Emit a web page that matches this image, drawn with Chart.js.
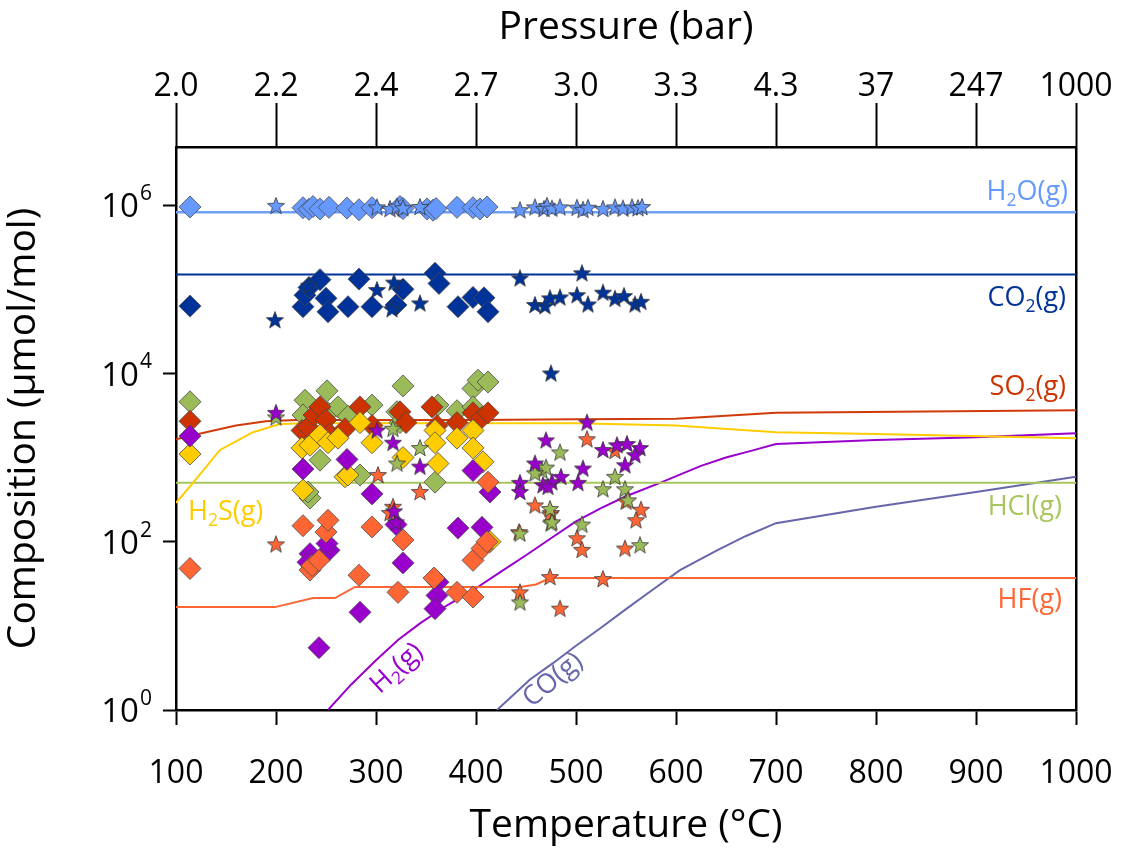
<!DOCTYPE html>
<html>
<head>
<meta charset="utf-8">
<script src="https://cdn.jsdelivr.net/npm/chart.js@4.4.1/dist/chart.umd.min.js"></script>
<style>
  body { margin: 0; background: #fff; }
  #wrap { width: 1123px; height: 853px; }
</style>
</head>
<body>
<div id="wrap"><canvas id="chart"></canvas></div>
<script>
// temperature ticks on the bottom axis and the matching pressures on the top axis
const tempTicks = [100, 200, 300, 400, 500, 600, 700, 800, 900, 1000];
const pressureLabels = ["2.0", "2.2", "2.4", "2.7", "3.0", "3.3", "4.3", "37", "247", "1000"];
const yTicks = [1, 100, 1e4, 1e6];

// model curves [T, umol/mol]
const h2oCurve = [[100, 8.2e5], [1000, 8.2e5]];
const co2Curve = [[100, 1.5e5], [1000, 1.5e5]];
const so2Curve = [[100, 1650], [130, 2000], [160, 2400], [190, 2700], [220, 2800], [400, 2800], [500, 2850], [600, 2900], [700, 3400], [1000, 3650]];
const h2sCurve = [[100, 290], [117, 500], [144, 1230], [177, 2000], [204, 2500], [230, 2550], [500, 2550], [600, 2400], [700, 2000], [800, 1900], [1000, 1700]];
const hclCurve = [[100, 500], [1000, 500]];
const hfCurve = [[100, 16.7], [199, 16.7], [237, 21.4], [259, 21.4], [279, 29], [444, 29], [460, 31], [474, 37], [1000, 37]];
const h2Curve = [[252, 1], [275, 2], [300, 3.9], [322, 6.8], [344, 10.7], [372, 17.8], [400, 28], [425, 44], [450, 69], [475, 110], [500, 174], [525, 250], [550, 347], [584, 500], [625, 795], [650, 1000], [675, 1200], [700, 1450], [800, 1620], [900, 1740], [1000, 1950]];
const coCurve = [[421, 1], [437, 1.5], [454, 2.3], [477, 3.6], [500, 5.8], [525, 9.5], [550, 15.8], [577, 27], [604, 46], [641, 79], [670, 117], [700, 166], [800, 260], [900, 390], [1000, 590]];

// measured samples, diamonds and stars [T, umol/mol]
const h2oDiamonds = [[114, 9.5e5], [227, 9.3e5], [233, 8.9e5], [237, 9.6e5], [244, 9.0e5], [253, 9.4e5], [271, 9.2e5], [283, 8.8e5], [296, 9.3e5], [324, 9.6e5], [327, 9.1e5], [351, 9.0e5], [357, 8.7e5], [360, 9.1e5], [381, 9.4e5], [397, 9.3e5], [404, 9.0e5], [411, 9.5e5]];
const h2oStars = [[200, 9.8e5], [301, 9.4e5], [314, 9.0e5], [321, 9.6e5], [327, 9.2e5], [344, 9.5e5], [444, 8.7e5], [459, 9.4e5], [468, 9.0e5], [471, 9.8e5], [476, 9.1e5], [484, 9.4e5], [501, 9.3e5], [507, 8.8e5], [512, 9.3e5], [527, 9.0e5], [539, 9.4e5], [547, 9.1e5], [556, 9.4e5], [562, 9.2e5], [566, 9.5e5]];
const co2Diamonds = [[114, 6.3e4], [227, 6.2e4], [229, 8.5e4], [233, 1.05e5], [244, 1.3e5], [250, 7.8e4], [252, 5.4e4], [272, 6.2e4], [283, 1.32e5], [296, 6.2e4], [320, 6.5e4], [327, 1.0e5], [359, 1.55e5], [363, 1.17e5], [382, 6.2e4], [397, 8.0e4], [408, 7.9e4], [412, 5.4e4]];
const co2Stars = [[199, 4.3e4], [233, 1.1e5], [301, 9.8e4], [318, 1.2e5], [316, 5.8e4], [344, 6.8e4], [444, 1.35e5], [506, 1.55e5], [459, 6.5e4], [469, 6.3e4], [474, 7.8e4], [484, 8.0e4], [501, 8.5e4], [512, 6.6e4], [527, 9.1e4], [539, 7.7e4], [548, 8.3e4], [559, 6.6e4], [565, 7.1e4], [475, 1.0e4]];
const so2Diamonds = [[114, 2700], [226, 2100], [232, 2300], [238, 3200], [244, 4000], [250, 2800], [254, 1900], [269, 2200], [284, 4000], [296, 2400], [324, 3500], [330, 2600], [356, 4000], [361, 2400], [381, 2600], [397, 3400], [406, 3000], [412, 3400]];
const h2sDiamonds = [[114, 1100], [226, 1300], [234, 1400], [244, 1850], [252, 1500], [262, 1700], [269, 590], [272, 620], [284, 2600], [296, 1500], [227, 410], [327, 1000], [359, 2100], [359, 1500], [362, 850], [381, 1700], [397, 2100], [397, 1300], [407, 890], [414, 100]];
const hclDiamonds = [[114, 4600], [229, 4800], [227, 3200], [251, 6200], [252, 3400], [244, 930], [262, 4000], [272, 3100], [284, 620], [296, 4200], [321, 3500], [324, 2600], [327, 7100], [234, 330], [232, 390], [362, 4200], [359, 510], [381, 3600], [397, 6600], [402, 8300], [412, 7900], [397, 4000]];
const hfDiamonds = [[114, 48], [227, 155], [250, 130], [252, 180], [234, 46], [236, 52], [243, 60], [296, 150], [327, 105], [283, 40], [322, 25], [358, 37], [381, 25], [397, 22], [397, 60], [406, 83], [411, 100], [412, 510]];
const h2Diamonds = [[114, 1800], [227, 730], [271, 950], [296, 370], [234, 72], [232, 57], [253, 79], [251, 95], [284, 14.5], [243, 5.5], [327, 56], [320, 160], [397, 700], [414, 390], [382, 145], [406, 148], [362, 33], [361, 23], [359, 16]];
const h2Stars = [[200, 3400], [301, 2100], [317, 1500], [344, 780], [320, 170], [318, 230], [511, 2600], [470, 1600], [459, 850], [444, 500], [444, 390], [507, 740], [485, 590], [476, 510], [467, 470], [472, 450], [502, 500], [527, 1230], [541, 1400], [551, 1450], [564, 1300], [559, 1070], [549, 810]];
const hclStars = [[200, 3000], [317, 2200], [344, 1300], [321, 850], [466, 700], [484, 1150], [470, 760], [459, 650], [527, 420], [539, 590], [549, 420], [552, 310], [444, 19], [475, 165], [506, 160], [564, 91], [474, 245], [444, 125], [476, 170]];
const hfStars = [[200, 93], [302, 620], [344, 390], [317, 260], [314, 220], [511, 1650], [539, 1200], [459, 270], [475, 220], [474, 210], [550, 300], [565, 240], [560, 180], [443, 130], [501, 110], [506, 80], [549, 83], [474, 38], [527, 36], [444, 25], [484, 16]];

const C = {
  h2o: "#6699FF", co2: "#003399", so2: "#CC3300", h2s: "#FFCC00",
  hcl: "#9BBB59", hf: "#FF6633", h2: "#9900CC", co: "#6666AA"
};
const FONT = "'Open Sans', sans-serif";

function pts(arr) { return arr.map(p => ({ x: p[0], y: p[1] })); }

function makeStar(color) {
  const c = document.createElement("canvas");
  c.width = 22; c.height = 22;
  const g = c.getContext("2d");
  g.beginPath();
  for (let i = 0; i < 10; i++) {
    const r = i % 2 ? 3.8 : 9;
    const a = -Math.PI / 2 + i * Math.PI / 5;
    const px = 11 + r * Math.cos(a), py = 11.5 + r * Math.sin(a);
    if (i === 0) g.moveTo(px, py); else g.lineTo(px, py);
  }
  g.closePath();
  g.fillStyle = color;
  g.fill();
  g.strokeStyle = "#333";
  g.lineWidth = 0.8;
  g.stroke();
  return c;
}

function curve(data, color, width) {
  return {
    type: "line", data: pts(data), borderColor: color, borderWidth: width || 2,
    pointRadius: 0, fill: false, order: 2, tension: 0
  };
}
function diamonds(data, color) {
  return {
    type: "scatter", data: pts(data), pointStyle: "rectRot", pointRadius: 11,
    backgroundColor: color, borderColor: "#4a4a4a", borderWidth: 0.8, order: 1
  };
}
function stars(data, color) {
  return {
    type: "scatter", data: pts(data), pointStyle: makeStar(color), pointRadius: 9,
    order: 0
  };
}

// draws text made of normal and subscript parts
function subText(ctx, parts, x, y, size, color, align, angle) {
  ctx.save();
  ctx.translate(x, y);
  ctx.rotate(angle || 0);
  ctx.fillStyle = color;
  ctx.textBaseline = "alphabetic";
  let total = 0;
  parts.forEach(p => {
    ctx.font = (p[1] ? size * 0.65 : size) + "px " + FONT;
    total += ctx.measureText(p[0]).width;
  });
  let cx = align === "right" ? -total : align === "center" ? -total / 2 : 0;
  parts.forEach(p => {
    ctx.font = (p[1] ? size * 0.65 : size) + "px " + FONT;
    ctx.textAlign = "left";
    ctx.fillText(p[0], cx, p[1] ? size * 0.22 : 0);
    cx += ctx.measureText(p[0]).width;
  });
  ctx.restore();
}

const labelPlugin = {
  id: "labels",
  afterDraw(chart) {
    const ctx = chart.ctx;
    const a = chart.chartArea;
    const ys = chart.scales.y;
    // y tick labels with superscript powers
    ctx.save();
    yTicks.forEach(v => {
      const py = ys.getPixelForValue(v);
      const exp = String(Math.round(Math.log10(v)));
      ctx.fillStyle = "#000";
      ctx.textBaseline = "middle";
      ctx.font = "21px " + FONT;
      ctx.textAlign = "left";
      const ew = ctx.measureText(exp).width;
      ctx.fillText(exp, a.left - 24 - ew, py - 11);
      ctx.font = "33px " + FONT;
      ctx.textAlign = "right";
      ctx.fillText("10", a.left - 25 - ew, py + 3);
    });
    ctx.restore();

    const s = 27, r = a.right - 8;
    subText(ctx, [["H", 0], ["2", 1], ["O(g)", 0]], r, 200, s, C.h2o, "right");
    subText(ctx, [["CO", 0], ["2", 1], ["(g)", 0]], r - 2, 306, s, C.co2, "right");
    subText(ctx, [["SO", 0], ["2", 1], ["(g)", 0]], r - 2, 395, s, C.so2, "right");
    subText(ctx, [["HCl(g)", 0]], r - 6, 515, s, "#A8C65E", "right");
    subText(ctx, [["HF(g)", 0]], r - 6, 608, s, C.hf, "right");
    subText(ctx, [["H", 0], ["2", 1], ["S(g)", 0]], a.left + 12, 520, s, C.h2s, "left");
    subText(ctx, [["H", 0], ["2", 1], ["(g)", 0]], 402, 674, s, C.h2, "center", -0.74);
    subText(ctx, [["CO(g)", 0]], 558, 686, s, C.co, "center", -0.7);
  }
};

const tickFont = { family: FONT, size: 32 };
const titleFont = { family: FONT, size: 39 };

new Chart(document.getElementById("chart"), {
  data: {
    datasets: [
      stars(h2oStars, C.h2o), stars(co2Stars, C.co2), stars(h2Stars, C.h2),
      stars(hclStars, C.hcl), stars(hfStars, C.hf),
      diamonds(h2oDiamonds, C.h2o), diamonds(co2Diamonds, C.co2),
      diamonds(hfDiamonds, C.hf), diamonds(h2Diamonds, C.h2),
      diamonds(h2sDiamonds, C.h2s), diamonds(so2Diamonds, C.so2),
      diamonds(hclDiamonds, C.hcl),
      curve(h2oCurve, "#6FA0F8", 2.5), curve(co2Curve, C.co2, 2),
      curve(so2Curve, "#D03A0A", 2), curve(h2sCurve, C.h2s, 2),
      curve(hclCurve, "#A8C65E", 2), curve(hfCurve, C.hf, 2),
      curve(h2Curve, C.h2, 2), curve(coCurve, C.co, 2)
    ]
  },
  options: {
    responsive: true,
    maintainAspectRatio: false,
    animation: false,
    layout: { padding: 0 },
    plugins: { legend: { display: false }, tooltip: { enabled: false } },
    scales: {
      x: {
        type: "linear", position: "bottom", min: 100, max: 1000,
        afterBuildTicks: s => { s.ticks = tempTicks.map(v => ({ value: v })); },
        afterFit: s => { s.height = 143; s.paddingLeft = 0; s.paddingRight = 0; },
        ticks: { font: tickFont, color: "#000", padding: 30, maxRotation: 0,
          callback: v => String(v) },
        grid: { drawOnChartArea: false, tickLength: 15, tickColor: "#000", tickWidth: 2 },
        border: { color: "#000", width: 2.5 },
        title: { display: true, text: "Temperature (°C)", font: titleFont, color: "#000", padding: { top: 0 } }
      },
      xTop: {
        type: "linear", position: "top", min: 100, max: 1000,
        afterBuildTicks: s => { s.ticks = tempTicks.map(v => ({ value: v })); },
        afterFit: s => { s.height = 147; s.paddingLeft = 0; s.paddingRight = 0; },
        ticks: { font: tickFont, color: "#000", padding: -3, maxRotation: 0,
          callback: (v) => pressureLabels[tempTicks.indexOf(v)] },
        grid: { drawOnChartArea: false, tickLength: 44, tickColor: "#000", tickWidth: 2 },
        border: { color: "#000", width: 2.5 },
        title: { display: true, text: "Pressure (bar)", font: titleFont, color: "#000", padding: { bottom: 0 } }
      },
      y: {
        type: "logarithmic", position: "left", min: 1, max: 4.9e6,
        afterBuildTicks: s => { s.ticks = yTicks.map(v => ({ value: v })); },
        afterFit: s => { s.width = 176; },
        ticks: { callback: () => "", font: tickFont },
        grid: { drawOnChartArea: false, tickLength: 13, tickColor: "#000", tickWidth: 2 },
        border: { color: "#000", width: 2.5 },
        title: { display: true, text: "Composition (µmol/mol)", font: titleFont, color: "#000", padding: { top: 0, bottom: 0 } }
      },
      yR: {
        type: "linear", position: "right", min: 0, max: 1,
        afterFit: s => { s.width = 47; },
        ticks: { display: false },
        grid: { display: false, drawTicks: false },
        border: { display: true, color: "#000", width: 2.5 }
      }
    }
  },
  plugins: [labelPlugin]
});
</script>
</body>
</html>
